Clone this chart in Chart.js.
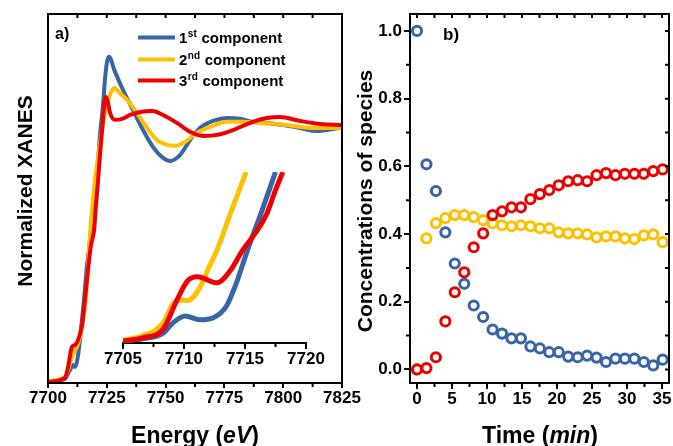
<!DOCTYPE html>
<html>
<head>
<meta charset="utf-8">
<script src="https://cdn.jsdelivr.net/npm/chart.js@4.4.1/dist/chart.umd.min.js"></script>
<style>
html, body { margin: 0; padding: 0; background: #fff; overflow: hidden; }
#wrap { position: relative; width: 673px; height: 446px; overflow: hidden; }
canvas { position: absolute; left: 0; top: 0; }
</style>
</head>
<body>
<div id="wrap">
  <canvas id="cA" width="700" height="446"></canvas>
  <canvas id="cI" width="700" height="446"></canvas>
  <canvas id="cB" width="700" height="446"></canvas>
</div>
<script>
// ---- panel a: XANES components (energy in eV, normalized absorption) ----
const blueE = [7700.0, 7707.2, 7708.5, 7709.8, 7710.6, 7711.5, 7712.8, 7714.0, 7715.3, 7716.6, 7717.9, 7719.1, 7720.0, 7721.3, 7722.1, 7723.4, 7724.2, 7725.1, 7725.9, 7728.5, 7731.9, 7736.1, 7740.4, 7744.6, 7748.9, 7751.9, 7756.1, 7760.4, 7764.6, 7770.2, 7776.1, 7781.6, 7787.2, 7793.1, 7799.9, 7807.1, 7814.4, 7821.2, 7825.0];
const blueV = [-0.006, 0.004, 0.024, 0.047, 0.059, 0.051, 0.098, 0.196, 0.314, 0.451, 0.549, 0.647, 0.725, 0.863, 0.961, 1.078, 1.176, 1.247, 1.267, 1.208, 1.137, 1.059, 0.980, 0.914, 0.871, 0.859, 0.882, 0.941, 0.988, 1.016, 1.027, 1.024, 1.012, 1.008, 1.000, 0.988, 0.976, 0.984, 0.992];

const yellowE = [7700.0, 7707.2, 7708.5, 7709.8, 7710.6, 7711.5, 7712.3, 7714.5, 7716.6, 7717.4, 7718.3, 7720.0, 7721.3, 7723.0, 7724.7, 7726.4, 7728.1, 7730.6, 7733.6, 7737.8, 7742.1, 7746.3, 7750.6, 7754.0, 7758.2, 7763.4, 7768.9, 7776.1, 7782.9, 7790.1, 7797.4, 7804.2, 7812.7, 7821.2, 7825.0];
const yellowV = [-0.004, 0.012, 0.039, 0.078, 0.098, 0.118, 0.129, 0.208, 0.380, 0.510, 0.620, 0.784, 0.875, 0.980, 1.067, 1.118, 1.145, 1.125, 1.098, 1.047, 0.988, 0.941, 0.922, 0.918, 0.933, 0.969, 0.992, 1.012, 1.012, 1.008, 1.004, 0.996, 0.988, 0.988, 0.990];

const redE = [7700.0, 7707.2, 7708.5, 7710.2, 7711.5, 7712.8, 7714.5, 7715.7, 7717.0, 7718.3, 7719.6, 7720.4, 7721.3, 7722.1, 7723.0, 7723.8, 7724.7, 7725.5, 7726.4, 7728.5, 7731.5, 7734.9, 7739.1, 7744.6, 7748.9, 7754.8, 7760.4, 7765.9, 7771.9, 7778.7, 7785.9, 7793.1, 7798.6, 7807.1, 7815.6, 7825.0];
const redV = [-0.008, 0.008, 0.050, 0.130, 0.137, 0.157, 0.216, 0.314, 0.431, 0.530, 0.588, 0.686, 0.784, 0.882, 0.980, 1.067, 1.110, 1.086, 1.047, 1.020, 1.024, 1.039, 1.051, 1.055, 1.039, 1.008, 0.973, 0.957, 0.961, 0.980, 1.008, 1.027, 1.031, 1.016, 1.004, 1.000];

// inset: pre-edge zoom
const insetBlueE = [7705.0, 7706.6, 7708.3, 7709.1, 7710.1, 7711.3, 7712.4, 7713.5, 7714.3, 7715.2, 7716.4, 7717.5];
const insetBlueV = [0.006, 0.012, 0.029, 0.059, 0.079, 0.068, 0.074, 0.109, 0.176, 0.271, 0.388, 0.500];
const insetYellowE = [7705.0, 7706.6, 7708.3, 7709.1, 7709.7, 7710.3, 7711.3, 7712.1, 7712.7, 7713.9, 7715.1];
const insetYellowV = [0.009, 0.021, 0.059, 0.115, 0.126, 0.124, 0.162, 0.226, 0.271, 0.388, 0.500];
const insetRedE = [7705.0, 7706.6, 7708.3, 7709.4, 7710.3, 7711.1, 7712.7, 7713.8, 7714.8, 7716.0, 7716.8, 7717.5, 7718.1];
const insetRedV = [0.006, 0.015, 0.041, 0.124, 0.182, 0.194, 0.176, 0.212, 0.271, 0.329, 0.379, 0.447, 0.500];

const componentLabels = ['1st component', '2nd component', '3rd component'];
const energyTicks = [7700, 7725, 7750, 7775, 7800, 7825];
const insetTicks = [7705, 7710, 7715, 7720];

// ---- panel b: concentrations vs time (min) ----
const times = [0, 1.35, 2.7, 4.05, 5.4, 6.75, 8.1, 9.45, 10.8, 12.15, 13.5, 14.85, 16.2, 17.55, 18.9, 20.25, 21.6, 22.95, 24.3, 25.65, 27.0, 28.35, 29.7, 31.05, 32.4, 33.75, 35.1];
const conc1 = [1.0, 0.606, 0.527, 0.405, 0.313, 0.253, 0.189, 0.155, 0.118, 0.106, 0.092, 0.092, 0.068, 0.062, 0.051, 0.051, 0.038, 0.036, 0.041, 0.035, 0.022, 0.032, 0.032, 0.032, 0.022, 0.012, 0.029];
const conc2 = [0.0, 0.387, 0.432, 0.447, 0.456, 0.456, 0.450, 0.441, 0.432, 0.426, 0.423, 0.426, 0.423, 0.417, 0.417, 0.405, 0.402, 0.402, 0.399, 0.390, 0.393, 0.393, 0.387, 0.385, 0.396, 0.399, 0.376];
const conc3 = [0.0, 0.004, 0.036, 0.142, 0.228, 0.287, 0.361, 0.402, 0.456, 0.467, 0.479, 0.479, 0.503, 0.518, 0.530, 0.544, 0.556, 0.559, 0.556, 0.574, 0.580, 0.574, 0.578, 0.578, 0.578, 0.586, 0.591];
const timeTicks = [0, 5, 10, 15, 20, 25, 30, 35];
const concTicks = [0, 0.2, 0.4, 0.6, 0.8, 1.0];

const BLUE = '#3765A8';
const YELLOW = '#FFC000';
const RED = '#EE0000';
const FONT = '"Liberation Sans", Arial, Helvetica, sans-serif';

Chart.defaults.font.family = FONT;
Chart.defaults.color = '#000';

const pts = (xs, ys) => xs.map((x, i) => ({ x: x, y: ys[i] }));

function steps(a, b, s) {
  const out = [];
  for (let v = a; v <= b + 1e-9; v += s) out.push(Math.round(v * 1000) / 1000);
  return out;
}

function xMarks(ctx, sc, vals, y0, len) {
  ctx.beginPath();
  vals.forEach(v => { const p = sc.getPixelForValue(v); ctx.moveTo(p, y0); ctx.lineTo(p, y0 + len); });
  ctx.stroke();
}
function yMarks(ctx, sc, vals, x0, len) {
  ctx.beginPath();
  vals.forEach(v => { const p = sc.getPixelForValue(v); ctx.moveTo(x0, p); ctx.lineTo(x0 + len, p); });
  ctx.stroke();
}

// draws mixed-style text centred on (x, y) baseline, optionally rotated
function richText(ctx, parts, x, y, rot) {
  ctx.save();
  ctx.translate(x, y);
  if (rot) ctx.rotate(rot);
  ctx.textAlign = 'left';
  ctx.textBaseline = 'alphabetic';
  ctx.fillStyle = '#000';
  let w = 0;
  parts.forEach(p => { ctx.font = p[1]; w += ctx.measureText(p[0]).width; });
  let cx = -w / 2;
  parts.forEach(p => { ctx.font = p[1]; ctx.fillText(p[0], cx, 0); cx += ctx.measureText(p[0]).width; });
  ctx.restore();
}

function xAxis(min, max, ticks, fitH, tl, fmt) {
  return {
    type: 'linear', position: 'bottom', min: min, max: max,
    afterBuildTicks: s => { s.ticks = ticks.map(v => ({ value: v })); },
    afterFit: s => { s.height = fitH; },
    grid: { display: true, drawOnChartArea: false, drawTicks: true, tickLength: tl, color: '#000', lineWidth: 2 },
    border: { display: true, color: '#000', width: 2 },
    ticks: { font: { size: 17, weight: 'bold' }, color: '#000', padding: 0, maxRotation: 0, autoSkip: false, callback: fmt }
  };
}

const decoA = {
  id: 'decoA',
  afterDraw(chart) {
    const { ctx, chartArea: a, scales: { x } } = chart;
    ctx.save();
    ctx.strokeStyle = '#000';
    ctx.lineWidth = 2;
    ctx.strokeRect(a.left, a.top, a.right - a.left, a.bottom - a.top);
    xMarks(ctx, x, steps(7712.5, 7825, 25), a.bottom, 4);
    xMarks(ctx, x, steps(7700, 7825, 12.5), a.top, 4);

    // legend with superscript ordinals
    const rows = [43, 65, 86];
    chart.data.datasets.forEach((ds, i) => {
      const y = rows[i];
      ctx.strokeStyle = ds.borderColor;
      ctx.lineWidth = 4;
      ctx.beginPath(); ctx.moveTo(138, y - 5.5); ctx.lineTo(175, y - 5.5); ctx.stroke();
      const m = ds.label.match(/^(\d+)(st|nd|rd|th)(.*)$/);
      ctx.fillStyle = '#000';
      ctx.textBaseline = 'alphabetic';
      let cx = 179;
      ctx.font = 'bold 15px ' + FONT;
      ctx.fillText(m[1], cx, y); cx += ctx.measureText(m[1]).width;
      ctx.font = 'bold 10px ' + FONT;
      ctx.fillText(m[2], cx + 0.5, y - 6); cx += ctx.measureText(m[2]).width + 1;
      ctx.font = 'bold 15px ' + FONT;
      ctx.fillText(m[3], cx, y);
    });

    ctx.font = 'bold 16px ' + FONT;
    ctx.fillStyle = '#000';
    ctx.fillText('a)', 55, 39);
    richText(ctx, [['Normalized XANES', 'bold 21px ' + FONT]], 32, 191, -Math.PI / 2);
    richText(ctx, [['Energy (', 'bold 23px ' + FONT], ['eV', 'italic bold 23px ' + FONT], [')', 'bold 23px ' + FONT]], 195, 443);
    ctx.restore();
  }
};

const decoI = {
  id: 'decoI',
  afterDraw(chart) {
    const { ctx, chartArea: a, scales: { x } } = chart;
    ctx.save();
    ctx.strokeStyle = '#000';
    ctx.lineWidth = 2;
    xMarks(ctx, x, steps(7707.5, 7720, 5), a.bottom, 4);
    ctx.restore();
  }
};

const decoB = {
  id: 'decoB',
  afterDraw(chart) {
    const { ctx, chartArea: a, scales: { x, y } } = chart;
    ctx.save();
    ctx.strokeStyle = '#000';
    ctx.lineWidth = 2;
    ctx.strokeRect(a.left, a.top, a.right - a.left, a.bottom - a.top);
    xMarks(ctx, x, steps(2.5, 35, 5), a.bottom, 4);
    xMarks(ctx, x, steps(0, 35, 2.5), a.top, 4);
    yMarks(ctx, y, steps(0.1, 1.0, 0.2), a.left, -4);
    yMarks(ctx, y, steps(0, 1.0, 0.1), a.right, -4);
    ctx.font = 'bold 17px ' + FONT;
    ctx.fillStyle = '#000';
    ctx.fillText('b)', 443, 40);
    richText(ctx, [['Concentrations of species', 'bold 21px ' + FONT]], 372, 201, -Math.PI / 2);
    richText(ctx, [['Time (', 'bold 23px ' + FONT], ['min', 'italic bold 23px ' + FONT], [')', 'bold 23px ' + FONT]], 540, 443);
    ctx.restore();
  }
};

const lineDs = (label, xs, ys, color, order, w) => ({
  label: label, data: pts(xs, ys), borderColor: color, backgroundColor: color,
  borderWidth: w, pointRadius: 0, fill: false, cubicInterpolationMode: 'monotone', order: order
});

const base = { responsive: false, animation: false, devicePixelRatio: 1, events: [],
  plugins: { legend: { display: false }, tooltip: { enabled: false } } };

new Chart(document.getElementById('cA'), {
  type: 'line',
  data: { datasets: [
    lineDs(componentLabels[0], blueE, blueV, BLUE, 3, 4),
    lineDs(componentLabels[1], yellowE, yellowV, YELLOW, 2, 4),
    lineDs(componentLabels[2], redE, redV, RED, 1, 4)
  ] },
  options: Object.assign({}, base, {
    layout: { padding: { left: 48, right: 700 - 342, top: 14, bottom: 0 } },
    scales: {
      x: xAxis(7700, 7825, energyTicks, 63, 5, v => String(v)),
      y: { type: 'linear', display: false, min: -0.012, max: 1.435 }
    }
  }),
  plugins: [decoA]
});

new Chart(document.getElementById('cI'), {
  type: 'line',
  data: { datasets: [
    lineDs(componentLabels[0], insetBlueE, insetBlueV, BLUE, 3, 5),
    lineDs(componentLabels[1], insetYellowE, insetYellowV, YELLOW, 2, 5),
    lineDs(componentLabels[2], insetRedE, insetRedV, RED, 1, 5)
  ] },
  options: Object.assign({}, base, {
    layout: { padding: { left: 123, right: 700 - 306, top: 172, bottom: 446 - 343 - 40 } },
    scales: {
      x: xAxis(7705, 7720, insetTicks, 40, 6, v => String(v)),
      y: { type: 'linear', display: false, min: 0, max: 0.5 }
    }
  }),
  plugins: [decoI]
});

const scatDs = (ys, color, order) => ({
  data: pts(times, ys), showLine: false, pointStyle: 'circle', pointRadius: 4.6,
  pointBorderWidth: 3, pointBorderColor: color, pointBackgroundColor: 'rgba(0,0,0,0)', order: order
});

new Chart(document.getElementById('cB'), {
  type: 'scatter',
  data: { datasets: [scatDs(conc1, BLUE, 2), scatDs(conc2, YELLOW, 3), scatDs(conc3, RED, 1)] },
  options: Object.assign({}, base, {
    layout: { padding: { left: 345, right: 700 - 669, top: 14, bottom: 0 } },
    scales: {
      x: xAxis(-1, 36, timeTicks, 63, 6, v => String(v)),
      y: {
        type: 'linear', position: 'left', min: -0.04, max: 1.05,
        afterBuildTicks: s => { s.ticks = concTicks.map(v => ({ value: v })); },
        afterFit: s => { s.width = 65; },
        grid: { display: true, drawOnChartArea: false, drawTicks: true, tickLength: 6, color: '#000', lineWidth: 2 },
        border: { display: true, color: '#000', width: 2 },
        ticks: { font: { size: 17, weight: 'bold' }, color: '#000', padding: 2, callback: v => v.toFixed(1) }
      }
    }
  }),
  plugins: [decoB]
});
</script>
</body>
</html>
